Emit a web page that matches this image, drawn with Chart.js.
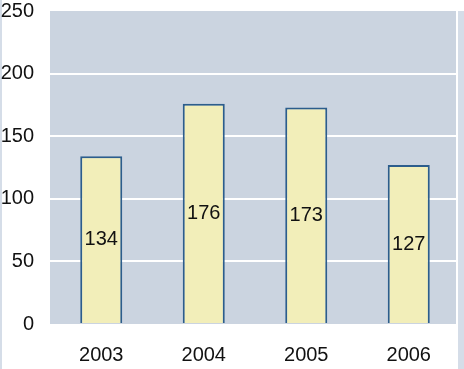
<!DOCTYPE html>
<html>
<head>
<meta charset="utf-8">
<script src="https://cdn.jsdelivr.net/npm/chart.js@4"></script>
<style>
  html, body { margin: 0; padding: 0; background: #fff; }
  canvas { display: block; }
</style>
</head>
<body>
<canvas id="myChart" width="464" height="369"></canvas>
<script>
const years = ['2003', '2004', '2005', '2006'];
const values = [134, 176, 173, 127];
const yTicks = [0, 50, 100, 150, 200, 250];

const FONT = '"Liberation Sans", Arial, sans-serif';
const PLOT_RIGHT = 456;

// plot background and the thin light-blue page strips
const plotBg = {
    id: 'plotBg',
    beforeDraw(chart) {
        const { ctx, chartArea: a } = chart;
        ctx.save();
        ctx.fillStyle = '#d5dde8';
        ctx.fillRect(0, 0, 2, chart.height);
        ctx.fillStyle = '#cbd4e0';
        ctx.fillRect(a.left, a.top, PLOT_RIGHT - a.left, a.bottom - a.top);
        ctx.restore();
    },
    beforeDatasetsDraw(chart) {
        const { ctx, chartArea: a } = chart;
        ctx.save();
        ctx.fillStyle = '#ffffff';
        ctx.fillRect(PLOT_RIGHT, 0, chart.width - PLOT_RIGHT, chart.height);
        ctx.fillStyle = '#d5dde8';
        ctx.fillRect(PLOT_RIGHT + 2, a.top, chart.width - PLOT_RIGHT - 2, chart.height - a.top);
        ctx.restore();
    }
};

const barLabels = {
    id: 'barLabels',
    afterDatasetsDraw(chart) {
        const { ctx } = chart;
        const meta = chart.getDatasetMeta(0);
        ctx.save();
        ctx.font = '20px ' + FONT;
        ctx.fillStyle = '#111';
        ctx.textAlign = 'center';
        ctx.textBaseline = 'middle';
        meta.data.forEach((bar, i) => {
            ctx.fillText(String(values[i]), bar.x, (bar.y + bar.base) / 2);
        });
        ctx.restore();
    }
};

new Chart(document.getElementById('myChart'), {
    type: 'bar',
    data: {
        labels: years,
        datasets: [{
            data: values,
            backgroundColor: '#f2eeb9',
            borderColor: '#2c5d8c',
            borderWidth: 2,
            barPercentage: 0.41,
            categoryPercentage: 1
        }]
    },
    options: {
        responsive: false,
        animation: false,
        layout: { padding: { top: 11, right: 4, left: 0, bottom: 0 } },
        plugins: {
            legend: { display: false },
            tooltip: { enabled: false }
        },
        scales: {
            x: {
                grid: { display: false, drawTicks: false },
                border: { display: false },
                ticks: {
                    color: '#111',
                    padding: 19,
                    font: { size: 20, family: FONT }
                },
                afterFit(scale) { scale.height = 45; scale.paddingLeft = 0; scale.paddingRight = 0; }
            },
            y: {
                min: 0,
                max: 250,
                afterBuildTicks(scale) { scale.ticks = yTicks.map(v => ({ value: v })); },
                grid: {
                    drawTicks: false,
                    lineWidth: 2,
                    color: ctx => (ctx.tick && (ctx.tick.value === 0 || ctx.tick.value === 250)) ? 'rgba(0,0,0,0)' : '#ffffff'
                },
                border: { display: false },
                ticks: {
                    color: '#111',
                    padding: 16,
                    font: { size: 20, family: FONT }
                },
                afterFit(scale) { scale.width = 50; scale.paddingTop = 0; scale.paddingBottom = 0; }
            }
        }
    },
    plugins: [plotBg, barLabels]
});
</script>
</body>
</html>
